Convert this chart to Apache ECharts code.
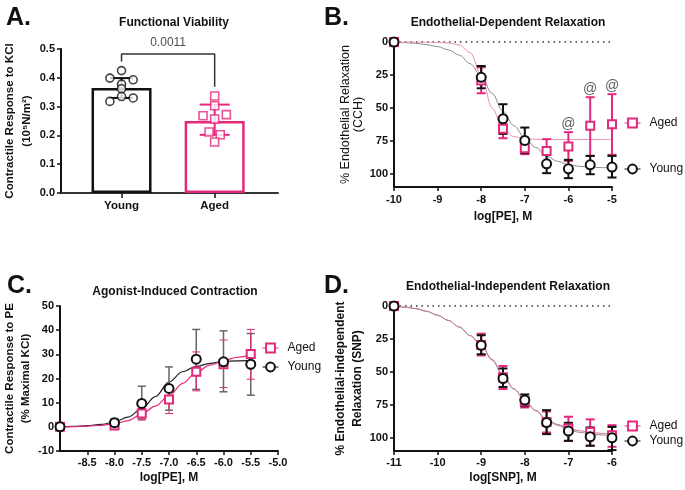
<!DOCTYPE html>
<html>
<head>
<meta charset="utf-8">
<title>Vascular function</title>
<script src="https://cdn.jsdelivr.net/npm/echarts@6/dist/echarts.min.js"></script>
<style>
    html, body { margin: 0; padding: 0; background: #fff; }
    #main { width: 685px; height: 490px; }
</style>
</head>
<body>
<div id="main"></div>
<script>
// ---------------- data ----------------
// A. Functional viability
var aCats = ['Young', 'Aged'];
var aMeans = [0.365, 0.25];
var aSD = [[0.330, 0.399], [0.202, 0.307]];
var aYoungPts = [0.425, 0.399, 0.393, 0.378, 0.362, 0.335, 0.330, 0.318];
var aYoungJit = [0, -0.125, 0.125, 0, 0, 0, 0.125, -0.125];
var aAgedPts = [0.337, 0.303, 0.272, 0.268, 0.257, 0.212, 0.202, 0.177];
var aAgedJit = [0, 0, 0.125, -0.125, 0, -0.06, 0.06, 0];
var aBracket = [0.457, 0.483, 0.369];
var aPValue = '0.0011';

// B. Endothelial-dependent relaxation (CCH)
var bDoses = [-10, -8, -7.5, -7, -6.5, -6, -5.5, -5];
var bYoung = [0, 26.8, 58.3, 74.7, 92.4, 96.2, 93.2, 94.9];
var bYoungErr = [[0, 0], [18.2, 35.1], [47.2, 69.7], [64.9, 84.3], [83.1, 99.5], [89.4, 103.3], [86.4, 100.3], [86.4, 102.8]];
var bAged = [0, 29.3, 65.9, 80.6, 82.6, 79.3, 63.6, 62.4];
var bAgedErr = [[0, 0], [19.2, 38.9], [62.4, 73], [76.8, 85.1], [73.7, 91.4], [68.4, 90.2], [41.9, 86.4], [39.6, 85.6]];
var bMarked = [-6, -5.5, -5];
var bFitX = [-10, -9.75, -9.5, -9.25, -9, -8.75, -8.5, -8.25, -8, -7.75, -7.5, -7.25, -7, -6.75, -6.5, -6.25, -6, -5.75, -5.5, -5.25, -5];
var bYoungFit = [0.2, 0.5, 1, 2, 3.5, 6, 10, 16.5, 26, 39, 52.5, 63.5, 72.5, 80, 86.5, 90.5, 93, 94.3, 95, 95.3, 95.5];
var bAgedFit = [0, 0, 0, 0.1, 0.3, 0.8, 2.2, 8, 25, 50, 66, 71.8, 73.4, 73.8, 74, 74, 74, 74, 74, 74, 74];
var bTicks = [0, 25, 50, 75, 100];

// C. Agonist-induced contraction (PE)
var cDoses = [-9, -8, -7.5, -7, -6.5, -6, -5.5];
var cYoung = [0, 1.7, 9.7, 15.9, 28, 26.9, 25.9];
var cYoungErr = [[0, 0], [0.5, 3.4], [3.2, 16.8], [6.9, 24.8], [15.5, 40.3], [14.5, 39.7], [13.1, 38.6]];
var cAged = [0, 0.6, 5.5, 11.3, 22.8, 25.9, 30.1];
var cAgedErr = [[0, 0], [0, 1.5], [2.8, 7.6], [5.5, 15.2], [14.9, 31], [16.3, 35.9], [19.7, 40.3]];
var cFitX = [-9, -8.75, -8.5, -8.25, -8, -7.75, -7.5, -7.25, -7, -6.75, -6.5, -6.25, -6, -5.75, -5.5];
var cYoungFit = [0, 0.2, 0.5, 1, 2, 4, 7.5, 12.5, 18.5, 22.8, 25, 26.3, 27, 27.3, 27.5];
var cAgedFit = [0, 0.1, 0.3, 0.6, 1.2, 2.6, 5.3, 8.6, 12.8, 18, 22.5, 25.5, 27.4, 28.8, 29.8];
var cTicks = [-8.5, -8, -7.5, -7, -6.5, -6, -5.5, -5];

// D. Endothelial-independent relaxation (SNP)
var dDoses = [-11, -9, -8.5, -8, -7.5, -7, -6.5, -6];
var dYoung = [0, 29.8, 55, 71.4, 88.4, 94.9, 99.2, 100];
var dYoungErr = [[0, 0], [22.2, 36.6], [47.4, 61.4], [67.1, 76], [79, 97.2], [88.6, 102.3], [92.1, 106], [91.7, 109.3]];
var dAged = [0, 29.5, 54, 72.5, 88, 92.9, 95.5, 98];
var dAgedErr = [[0, 0], [21, 37.5], [45.5, 63], [69, 77], [80, 96], [84, 102.3], [86, 106], [90.4, 106.8]];
var dFitX = [-11, -10.75, -10.5, -10.25, -10, -9.75, -9.5, -9.25, -9, -8.75, -8.5, -8.25, -8, -7.75, -7.5, -7.25, -7, -6.75, -6.5, -6.25, -6];
var dYoungFit = [0, 0.8, 2, 4, 7, 11, 16, 22.5, 30, 41, 53, 63, 71.5, 79.5, 86.5, 90.5, 93.7, 95.8, 97, 97.8, 98.3];
var dAgedFit = [0, 0.8, 2, 4, 7, 11, 16, 22.5, 29.7, 40.5, 52.5, 62.8, 71.5, 79.2, 85.8, 89.8, 92.7, 94.6, 95.8, 96.6, 97];

// ---------------- styles ----------------
var PINK = '#e4287c';
var BLACK = '#111';
var FONT = 'Liberation Sans, Arial, sans-serif';

var myChart = echarts.init(document.getElementById('main'), null, {renderer: 'canvas'});

function pairs(xs, ys) {
    return xs.map(function (x, i) { return [x, ys[i]]; });
}

function axisBase(extra) {
    var base = {
        type: 'value',
        splitLine: {show: false},
        axisLine: {show: true, onZero: false, lineStyle: {color: BLACK, width: 2}},
        axisTick: {show: true, length: 4, lineStyle: {color: BLACK, width: 1.5}},
        axisLabel: {color: BLACK, fontWeight: 'bold', fontSize: 11, fontFamily: FONT, margin: 6},
        nameLocation: 'middle',
        nameTextStyle: {color: BLACK, fontWeight: 'bold', fontSize: 12, fontFamily: FONT}
    };
    for (var k in extra) {
        if (typeof extra[k] === 'object' && base[k] && !Array.isArray(extra[k])) {
            base[k] = Object.assign({}, base[k], extra[k]);
        } else {
            base[k] = extra[k];
        }
    }
    return base;
}

// error bars drawn through the axes
function errSeries(gi, xs, errs, color, width, cap) {
    return {
        type: 'custom',
        xAxisIndex: gi, yAxisIndex: gi,
        silent: true, z: 3,
        encode: {x: 0, y: [1, 2]},
        data: xs.map(function (x, i) { return [x, errs[i][0], errs[i][1]]; }),
        renderItem: function (params, api) {
            var lo = api.coord([api.value(0), api.value(1)]);
            var hi = api.coord([api.value(0), api.value(2)]);
            var st = {stroke: color, lineWidth: width};
            return {
                type: 'group',
                children: [
                    {type: 'line', shape: {x1: lo[0], y1: lo[1], x2: hi[0], y2: hi[1]}, style: st},
                    {type: 'line', shape: {x1: lo[0] - cap, y1: lo[1], x2: lo[0] + cap, y2: lo[1]}, style: st},
                    {type: 'line', shape: {x1: hi[0] - cap, y1: hi[1], x2: hi[0] + cap, y2: hi[1]}, style: st}
                ]
            };
        }
    };
}

function fitSeries(gi, xs, ys, color, width) {
    return {
        type: 'line', name: 'fit', xAxisIndex: gi, yAxisIndex: gi,
        data: pairs(xs, ys), showSymbol: false, symbol: 'none',
        smooth: 0.35, smoothMonotone: 'x', silent: true, z: 2,
        lineStyle: {color: color, width: width}
    };
}

function pointSeries(name, gi, xs, ys) {
    var aged = name === 'Aged';
    return {
        type: 'line', name: name, xAxisIndex: gi, yAxisIndex: gi,
        data: pairs(xs, ys), clip: false, silent: true, z: 5,
        symbol: aged ? 'emptyRect' : 'emptyCircle',
        symbolSize: aged ? 8 : 9,
        lineStyle: {width: 0},
        itemStyle: {color: aged ? PINK : BLACK, borderWidth: 1.7}
    };
}

function zeroLine(gi, x0, x1) {
    return {
        type: 'line', name: 'zero', xAxisIndex: gi, yAxisIndex: gi,
        data: [[x0, 0], [x1, 0]], symbol: 'none', silent: true, z: 1, clip: false,
        lineStyle: {color: '#333', width: 1.5, type: [1.5, 4]}
    };
}

function legendItem(name, left, top) {
    var aged = name === 'Aged';
    return {
        data: [name], left: left, top: top, padding: 0,
        itemWidth: 16, itemHeight: 11, selectedMode: false,
        lineStyle: {width: 1, color: aged ? PINK : BLACK},
        textStyle: {fontSize: 12, color: BLACK, fontFamily: FONT, padding: [0, 0, 0, 4]}
    };
}

var titleStyle = {color: BLACK, fontWeight: 'bold', fontSize: 12, fontFamily: FONT};
var letterStyle = {color: BLACK, fontWeight: 'bold', fontSize: 25, fontFamily: FONT};

// panel A parts
var aBars = aMeans.map(function (v, i) {
    return {value: [i + 1, v], itemStyle: {borderColor: i === 0 ? BLACK : PINK}};
});
var aCaps = [11.7, 15];
var aColors = [BLACK, PINK];

var option = {
    animation: false,
    backgroundColor: '#fff',
    title: [
        {text: 'A.', left: 1, top: 1, textStyle: letterStyle},
        {text: 'B.', left: 319, top: 1, textStyle: letterStyle},
        {text: 'C.', left: 2, top: 269, textStyle: letterStyle},
        {text: 'D.', left: 319, top: 269, textStyle: letterStyle},
        {text: 'Functional Viability', left: 169, top: 12, textAlign: 'center', textStyle: titleStyle},
        {text: 'Endothelial-Dependent Relaxation', left: 503, top: 12, textAlign: 'center', textStyle: titleStyle},
        {text: 'Agonist-Induced Contraction', left: 170, top: 281, textAlign: 'center', textStyle: titleStyle},
        {text: 'Endothelial-Independent Relaxation', left: 503, top: 276, textAlign: 'center', textStyle: titleStyle}
    ],
    legend: [
        legendItem('Aged', 624, 117),
        legendItem('Young', 624, 163),
        legendItem('Aged', 262, 342),
        legendItem('Young', 262, 361),
        legendItem('Aged', 624, 420),
        legendItem('Young', 624, 435)
    ],
    grid: [
        {left: 61, top: 49, width: 217, height: 144},
        {left: 394, top: 42, width: 218, height: 145},
        {left: 60, top: 306, width: 218, height: 145},
        {left: 394, top: 306, width: 218, height: 145}
    ],
    xAxis: [
        axisBase({gridIndex: 0, min: 0.35, max: 2.68,
            axisLine: {show: true, onZero: false, lineStyle: {color: '#333', width: 2}},
            axisTick: {show: true, length: 5, customValues: [1, 2], lineStyle: {color: BLACK, width: 1.5}},
            axisLabel: {customValues: [1, 2], fontSize: 11.5, margin: 7,
                formatter: function (v) { return aCats[Math.round(v) - 1]; }}}),
        axisBase({gridIndex: 1, min: -10, max: -5, interval: 1,
            name: 'log[PE], M', nameGap: 24, axisLabel: {margin: 7}}),
        axisBase({gridIndex: 2, min: -9, max: -5, interval: 0.5,
            name: 'log[PE], M', nameGap: 21,
            axisTick: {customValues: cTicks},
            axisLabel: {customValues: cTicks, formatter: function (v) { return v.toFixed(1); }}}),
        axisBase({gridIndex: 3, min: -11, max: -6, interval: 1,
            name: 'log[SNP], M', nameGap: 21})
    ],
    yAxis: [
        axisBase({gridIndex: 0, min: 0, max: 0.5, interval: 0.1,
            name: 'Contractile Response to KCl\n(10⁵N/m²)', nameGap: 23,
            nameTextStyle: {fontSize: 11.5, lineHeight: 17},
            axisLabel: {formatter: function (v) { return v.toFixed(1); }}}),
        axisBase({gridIndex: 1, min: 0, max: 110, inverse: true,
            name: '% Endothelial Relaxation\n(CCH)', nameGap: 29,
            nameTextStyle: {fontSize: 12.5, fontWeight: 'normal', lineHeight: 13},
            axisTick: {customValues: bTicks},
            axisLabel: {customValues: bTicks}}),
        axisBase({gridIndex: 2, min: -10, max: 50, interval: 10,
            name: 'Contractile Response to PE\n(% Maximal KCl)', nameGap: 23,
            nameTextStyle: {fontSize: 11.5, lineHeight: 16}}),
        axisBase({gridIndex: 3, min: 0, max: 110, inverse: true,
            name: '% Endothelial-independent\nRelaxation (SNP)', nameGap: 26,
            nameTextStyle: {fontSize: 12, lineHeight: 17},
            axisTick: {customValues: bTicks},
            axisLabel: {customValues: bTicks}})
    ],
    series: [
        // legend icons take their look from these first named series
        pointSeries('Aged', 1, bDoses, bAged),
        pointSeries('Young', 1, bDoses, bYoung),

        // ---- A ----
        {
            type: 'bar', name: 'means', xAxisIndex: 0, yAxisIndex: 0, barWidth: 60,
            data: aBars, silent: true, z: 1,
            itemStyle: {color: '#fff', borderWidth: 2.5}
        },
        {
            type: 'custom', xAxisIndex: 0, yAxisIndex: 0, silent: true, z: 4,
            encode: {x: 0, y: [1, 2]},
            data: aSD.map(function (e, i) { return [i + 1, e[0], e[1]]; }),
            renderItem: function (params, api) {
                var i = params.dataIndex;
                var lo = api.coord([api.value(0), api.value(1)]);
                var hi = api.coord([api.value(0), api.value(2)]);
                var st = {stroke: aColors[i], lineWidth: 2};
                var c = aCaps[i];
                return {type: 'group', children: [
                    {type: 'line', shape: {x1: lo[0], y1: lo[1], x2: hi[0], y2: hi[1]}, style: st},
                    {type: 'line', shape: {x1: lo[0] - c, y1: lo[1], x2: lo[0] + c, y2: lo[1]}, style: st},
                    {type: 'line', shape: {x1: hi[0] - c, y1: hi[1], x2: hi[0] + c, y2: hi[1]}, style: st}
                ]};
            }
        },
        {
            type: 'scatter', name: 'young pts', xAxisIndex: 0, yAxisIndex: 0, silent: true, z: 5,
            data: aYoungPts.map(function (v, i) { return [1 + aYoungJit[i], v]; }),
            symbol: 'circle', symbolSize: 8,
            itemStyle: {color: '#fff', borderColor: BLACK, borderWidth: 1.6}
        },
        {
            type: 'scatter', name: 'aged pts', xAxisIndex: 0, yAxisIndex: 0, silent: true, z: 5,
            data: aAgedPts.map(function (v, i) { return [2 + aAgedJit[i], v]; }),
            symbol: 'rect', symbolSize: 8,
            itemStyle: {color: '#fff', borderColor: PINK, borderWidth: 1.6}
        },
        {
            type: 'line', name: 'bracket', xAxisIndex: 0, yAxisIndex: 0, silent: true, z: 3,
            data: [[1, aBracket[0]], [1, aBracket[1]], [2, aBracket[1]], [2, aBracket[2]]],
            symbol: 'none', clip: false,
            lineStyle: {color: '#333', width: 1.5}
        },
        {
            type: 'scatter', name: 'p', xAxisIndex: 0, yAxisIndex: 0, silent: true, clip: false,
            data: [[1.5, aBracket[1]]], symbolSize: 0,
            label: {show: true, position: 'top', distance: 5, formatter: aPValue,
                color: '#222', fontSize: 12, fontFamily: FONT}
        },

        // ---- B ----
        zeroLine(1, -10, -5),
        fitSeries(1, bFitX, bYoungFit, '#8c8c8c', 1),
        fitSeries(1, bFitX, bAgedFit, '#ec8fb6', 1),
        errSeries(1, bDoses, bAgedErr, PINK, 2, 4.5),
        errSeries(1, bDoses, bYoungErr, BLACK, 2, 4.5),
        {
            type: 'scatter', name: 'marks', xAxisIndex: 1, yAxisIndex: 1, silent: true, clip: false,
            data: bMarked.map(function (x) {
                return [x, bAgedErr[bDoses.indexOf(x)][0]];
            }),
            symbolSize: 0,
            label: {show: true, position: 'top', distance: 1, formatter: '@',
                color: '#333', fontSize: 14, fontFamily: FONT}
        },

        // ---- C ----
        fitSeries(2, cFitX, cYoungFit, '#222', 1.2),
        fitSeries(2, cFitX, cAgedFit, PINK, 1.2),
        errSeries(2, cDoses, cYoungErr, '#666', 1.5, 4),
        errSeries(2, cDoses, cAgedErr, PINK, 1, 4),
        pointSeries('Aged', 2, cDoses, cAged),
        pointSeries('Young', 2, cDoses, cYoung),

        // ---- D ----
        zeroLine(3, -11, -6),
        fitSeries(3, dFitX, dYoungFit, '#96808e', 1),
        fitSeries(3, dFitX, dAgedFit, '#c8799c', 1),
        errSeries(3, dDoses, dAgedErr, PINK, 2, 4.5),
        errSeries(3, dDoses, dYoungErr, BLACK, 2, 4.5),
        pointSeries('Aged', 3, dDoses, dAged),
        pointSeries('Young', 3, dDoses, dYoung)
    ]
};

myChart.setOption(option);
window.onresize = myChart.resize;
</script>
</body>
</html>
